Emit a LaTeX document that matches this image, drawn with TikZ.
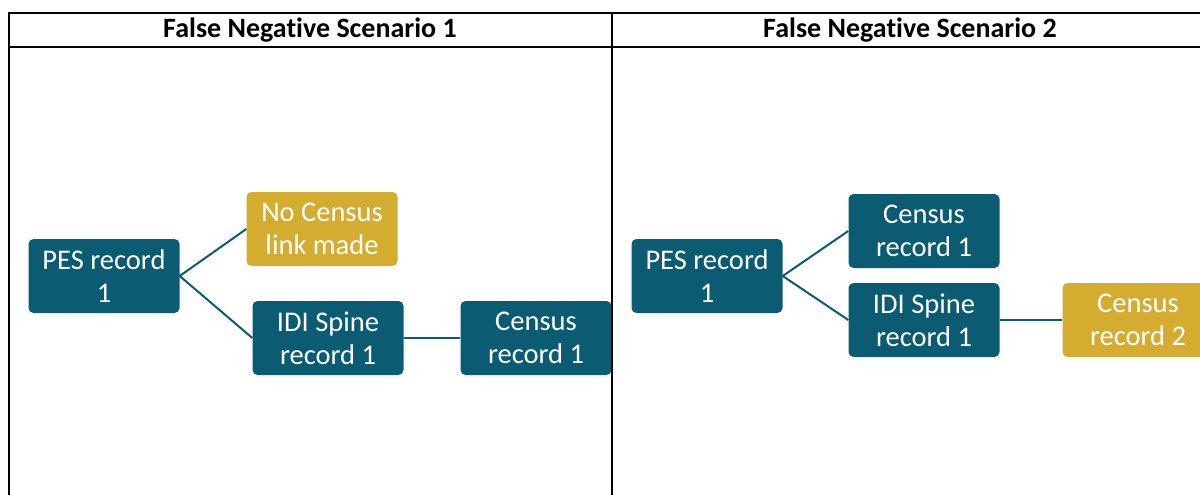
\documentclass[tikz,border=0pt]{standalone}
\usepackage{fontspec}
\setmainfont[Ligatures=NoCommon]{Carlito}
\definecolor{teal}{RGB}{11,92,115}
\definecolor{gold}{RGB}{212,172,48}
\tikzset{
  recbox/.style={rectangle, rounded corners=5pt, minimum width=151pt, minimum height=74pt,
    inner sep=0pt, align=center, text=white, font=\fontsize{28.5}{33}\selectfont},
  tealbox/.style={recbox, fill=teal},
  goldbox/.style={recbox, fill=gold},
  link/.style={draw=teal, line width=2pt},
  rule/.style={draw=black, line width=2pt},
  heading/.style={font=\bfseries\fontsize{28}{32}\selectfont, inner sep=0pt}
}
\begin{document}
\begin{tikzpicture}[x=1pt, y=-1pt]
  \clip (0,0) rectangle (1200,495);
  \fill[white] (0,0) rectangle (1200,495);

  % table rules
  \coordinate (tl) at (8,13);
  \coordinate (tr) at (1200,13);
  \coordinate (hl) at (8,47);
  \coordinate (hr) at (1200,47);
  \coordinate (lt) at (9,13);
  \coordinate (lb) at (9,495);
  \coordinate (mt) at (612,13);
  \coordinate (mb) at (612,495);

  % headings
  \node[heading] (h1) at (310,30) {False Negative Scenario 1};
  \node[heading] (h2) at (910,30) {False Negative Scenario 2};

  % scenario 1
  \node[tealbox] (pesA) at (104,276) {PES record\\1};
  \node[goldbox] (nolink) at (322,229) {No Census\\link made};
  \node[tealbox] (idiA) at (328,338) {IDI Spine\\record 1};
  \node[tealbox] (cenA) at (536,338) {Census\\record 1};
  \draw[link] (pesA.east) -- (nolink.west);
  \draw[link] (pesA.east) -- (idiA.west);
  \draw[link] (idiA.east) -- (cenA.west);

  % scenario 2
  \node[tealbox] (pesB) at (707,276) {PES record\\1};
  \node[tealbox] (cenB) at (924,231) {Census\\record 1};
  \node[tealbox] (idiB) at (924,320) {IDI Spine\\record 1};
  \node[goldbox] (cenC) at (1138,320) {Census\\record 2};
  \draw[link] (pesB.east) -- (cenB.west);
  \draw[link] (pesB.east) -- (idiB.west);
  \draw[link] (idiB.east) -- (cenC.west);

  \draw[rule] (tl) -- (tr);
  \draw[rule] (hl) -- (hr);
  \draw[rule] (lt) -- (lb);
  \draw[rule] (mt) -- (mb);
\end{tikzpicture}
\end{document}
